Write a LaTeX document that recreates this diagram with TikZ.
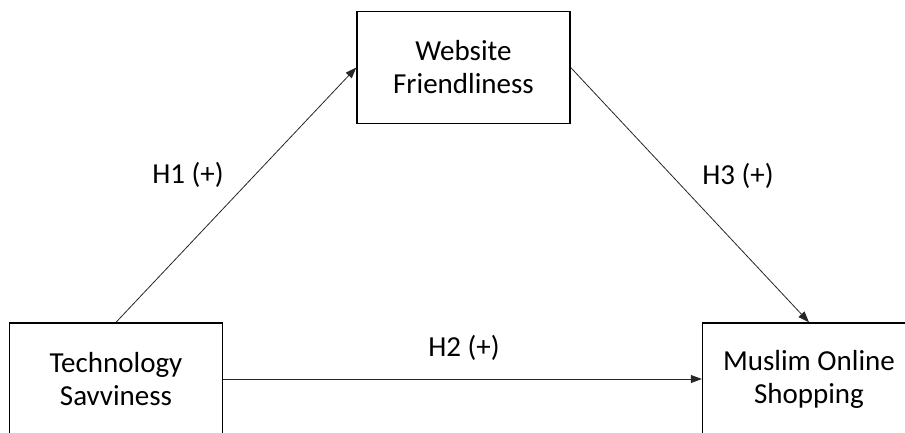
\documentclass[tikz,border=0pt]{standalone}
\usepackage{fontspec}
\setmainfont{Carlito}
\usetikzlibrary{arrows.meta}
\begin{document}
\begin{tikzpicture}[x=1pt,y=-1pt,
  box/.style={draw=black, line width=1.4pt, minimum width=213pt, minimum height=112pt, align=center, inner sep=0pt, font=\fontsize{29}{33}\selectfont},
  lbl/.style={font=\fontsize{29}{33}\selectfont, inner sep=0pt},
  conn/.style={draw=black!85, line width=0.8pt, -{Triangle[length=11pt,width=8pt]}}]
\useasboundingbox (0,0) rectangle (905,432);
\node[box] (web) at (463.5,67.5) {Website\\Friendliness};
\node[box] (tech) at (116,379) {Technology\\Savviness};
\node[box] (shop) at (809,379) {Muslim Online\\Shopping};
\draw[conn] (tech.north) -- (web.west);
\draw[conn] (web.east) -- (shop.north);
\draw[conn] (tech.east) -- (shop.west);
\node[lbl] (h1) at (188,175) {H1 (+)};
\node[lbl] (h3) at (738,176) {H3 (+)};
\node[lbl] (h2) at (464,348) {H2 (+)};
\end{tikzpicture}
\end{document}
